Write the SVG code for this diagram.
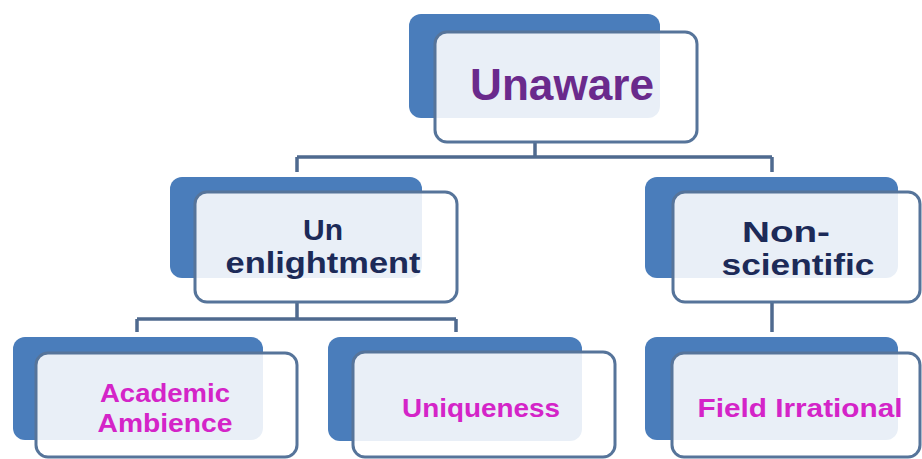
<svg xmlns="http://www.w3.org/2000/svg" width="922" height="459" viewBox="0 0 922 459">
  <style>
    .back { fill: #4a7dbb; }
    .front { fill: #ffffff; fill-opacity: 0.88; stroke: #56749a; stroke-width: 3; }
    .lbl { font-family: "Liberation Sans", Arial, sans-serif; font-weight: bold; text-anchor: middle; }
    .l1 { fill: #6a2a8c; font-size: 44px; }
    .l2 { fill: #1c2a58; font-size: 30px; }
    .l3 { fill: #d424c8; font-size: 26px; }
    .conn { fill: none; stroke: #4f6a8f; stroke-width: 3.5; }
  </style>
  <rect width="922" height="459" fill="#ffffff"/>

  <!-- connectors -->
  <g id="connectors">
    <path class="conn" d="M535 142 V157 M297 157 H772 M297 157 V172 M772 157 V172"/>
    <path class="conn" d="M297 302 V319 M137 319 H456 M137 319 V332 M456 319 V332"/>
    <path class="conn" d="M772 302 V332"/>
  </g>

  <g id="node-unaware">
    <rect class="back" x="409" y="14" width="251" height="104" rx="12"/>
    <rect class="front" x="435" y="32" width="262" height="110" rx="12"/>
    <text class="lbl l1" x="562" y="100" textLength="184" lengthAdjust="spacingAndGlyphs">Unaware</text>
  </g>

  <g id="node-unenlightment">
    <rect class="back" x="170" y="177" width="252" height="101" rx="12"/>
    <rect class="front" x="195" y="192" width="262" height="110" rx="12"/>
    <text class="lbl l2" x="323" y="240" textLength="40" lengthAdjust="spacingAndGlyphs">Un</text>
    <text class="lbl l2" x="323" y="273" textLength="195" lengthAdjust="spacingAndGlyphs">enlightment</text>
  </g>

  <g id="node-nonscientific">
    <rect class="back" x="645" y="177" width="253" height="101" rx="12"/>
    <rect class="front" x="673" y="192" width="247" height="110" rx="12"/>
    <text class="lbl l2" x="786" y="242" textLength="88" lengthAdjust="spacingAndGlyphs">Non-</text>
    <text class="lbl l2" x="798" y="275" textLength="153" lengthAdjust="spacingAndGlyphs">scientific</text>
  </g>

  <g id="node-academic">
    <rect class="back" x="13" y="337" width="250" height="103" rx="12"/>
    <rect class="front" x="36" y="353" width="261" height="104" rx="12"/>
    <text class="lbl l3" x="165" y="402" textLength="130" lengthAdjust="spacingAndGlyphs">Academic</text>
    <text class="lbl l3" x="165" y="432" textLength="135" lengthAdjust="spacingAndGlyphs">Ambience</text>
  </g>

  <g id="node-uniqueness">
    <rect class="back" x="328" y="337" width="254" height="104" rx="12"/>
    <rect class="front" x="353" y="352" width="262" height="105" rx="12"/>
    <text class="lbl l3" x="481" y="417" textLength="158" lengthAdjust="spacingAndGlyphs">Uniqueness</text>
  </g>

  <g id="node-field">
    <rect class="back" x="645" y="337" width="253" height="103" rx="12"/>
    <rect class="front" x="672" y="353" width="248" height="104" rx="12"/>
    <text class="lbl l3" x="800" y="417" textLength="205" lengthAdjust="spacingAndGlyphs">Field Irrational</text>
  </g>
</svg>
